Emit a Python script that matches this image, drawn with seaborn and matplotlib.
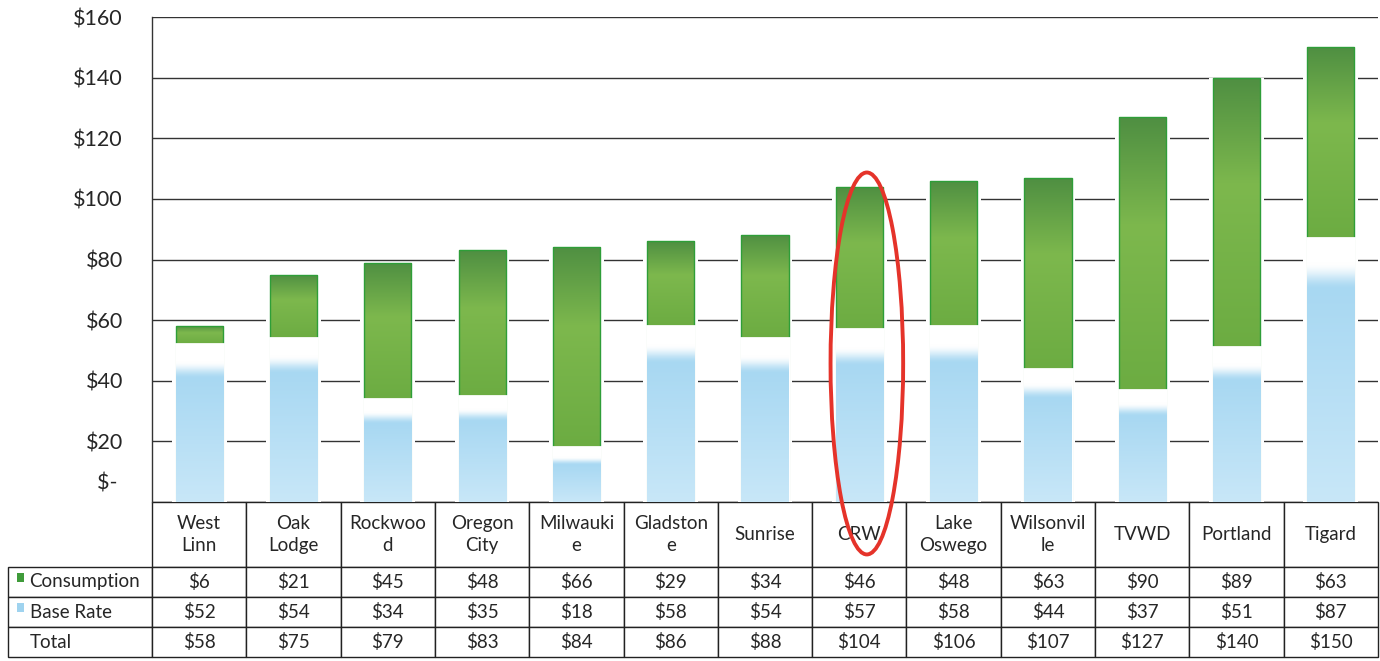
import matplotlib
matplotlib.use('Agg')
import matplotlib.pyplot as plt
from matplotlib.patches import Ellipse, Rectangle
from matplotlib.transforms import ScaledTranslation
import numpy as np
import seaborn as sns

## water bill comparison: base rate + consumption per provider, with data table below

categories = ['West Linn', 'Oak Lodge', 'Rockwood', 'Oregon City', 'Milwaukie', 'Gladstone',
              'Sunrise', 'CRW', 'Lake Oswego', 'Wilsonville', 'TVWD', 'Portland', 'Tigard']
col_labels = ['West\nLinn', 'Oak\nLodge', 'Rockwoo\nd', 'Oregon\nCity', 'Milwauki\ne', 'Gladston\ne',
              'Sunrise', 'CRW', 'Lake\nOswego', 'Wilsonvil\nle', 'TVWD', 'Portland', 'Tigard']
consumption = [6, 21, 45, 48, 66, 29, 34, 46, 48, 63, 90, 89, 63]
base_rate = [52, 54, 34, 35, 18, 58, 54, 57, 58, 44, 37, 51, 87]
total = [58, 75, 79, 83, 84, 86, 88, 104, 106, 107, 127, 140, 150]
row_labels = ['Consumption', 'Base Rate', 'Total']
yticks = [0, 20, 40, 60, 80, 100, 120, 140, 160]
highlight = 'CRW'

sns.set_style('white')
plt.rcParams['font.family'] = ['Lato', 'DejaVu Sans']

W, H = 1380, 661
AX_W, AX_H = 1226, 485
fig = plt.figure(figsize=(W / 100, H / 100), dpi=100)
ax = fig.add_axes([152 / W, 1 - 502 / H, AX_W / W, AX_H / H])

# white halo so gridlines stop short of the bars
sns.barplot(x=categories, y=total, color='white', saturation=1, width=0.58,
            linewidth=0, ax=ax, zorder=2)
# green (consumption) bars: drawn full height, lower part hidden by base bars
sns.barplot(x=categories, y=total, color='#6fb043', saturation=1, width=0.5,
            edgecolor='#2e9e38', linewidth=1, ax=ax, zorder=4)
green_bars = list(ax.containers[-1])
sns.barplot(x=categories, y=base_rate, color='white', saturation=1, width=0.5,
            edgecolor='white', linewidth=2, ax=ax, zorder=5)
blue_bars = list(ax.containers[-1])


def hex2rgb(h):
    h = h.lstrip('#')
    return np.array([int(h[i:i + 2], 16) / 255 for i in (0, 2, 4)])


g_top, g_mid, g_bot = hex2rgb('#4f8f42'), hex2rgb('#7db84d'), hex2rgb('#6cac42')
b_full, b_bot, white = hex2rgb('#a8d8f2'), hex2rgb('#c8e7f8'), np.ones(3)

for patch, b, t in zip(green_bars, base_rate, total):
    f = np.linspace(0, 1, 200)[:, None]  # 0 = top
    img = np.where(f < 0.4, g_top + (g_mid - g_top) * (f / 0.4),
                   g_mid + (g_bot - g_mid) * ((f - 0.4) / 0.6))
    x0, w = patch.get_x(), patch.get_width()
    im = ax.imshow(img[:, None, :], extent=[x0, x0 + w, b, t], aspect='auto',
                   zorder=3.5, interpolation='bilinear')
    im.set_clip_path(patch)
    patch.set_facecolor('none')

for patch, b in zip(blue_bars, base_rate):
    ys = np.linspace(b, 0, 300)[:, None]
    top_white = b - 0.07 * b - 2
    full_blue = b - 0.16 * b - 3
    k = np.clip((top_white - ys) / (top_white - full_blue), 0, 1)
    k = k * k * (3 - 2 * k)
    lower = b_full + (b_bot - b_full) * np.clip((full_blue - ys) / max(full_blue, 1), 0, 1)
    img = white + (lower - white) * k
    x0, w = patch.get_x(), patch.get_width()
    im = ax.imshow(img[:, None, :], extent=[x0, x0 + w, 0, b], aspect='auto',
                   zorder=5.5, interpolation='bilinear')
    im.set_clip_path(patch)

ax.set_xlim(-0.5, len(categories) - 0.5)
ax.set_ylim(0, 160)
ax.set_yticks(yticks)
ax.set_yticklabels(['$- ' if v == 0 else f'${v}' for v in yticks], fontsize=15.5)
ax.tick_params(axis='y', length=0, pad=21)
ax.tick_params(axis='x', labelbottom=False, length=0)
# the zero label sits a little above the table, as in the original
zlab = ax.get_yticklabels()[0]
zlab.set_transform(zlab.get_transform() + ScaledTranslation(0, 0.2, fig.dpi_scale_trans))
ax.set_xlabel('')
ax.set_ylabel('')
ax.yaxis.grid(True, color='#333333', linewidth=1)
ax.set_axisbelow(True)
for s in ['top', 'right', 'bottom']:
    ax.spines[s].set_visible(False)
ax.spines['left'].set_color('#333333')
ax.spines['left'].set_linewidth(1)

# data table below the plot (bbox covers data cells; row labels hang off to the left)
cell_text = [[f'${v}' for v in consumption],
             [f'${v}' for v in base_rate],
             [f'${v}' for v in total]]
tbl = ax.table(cellText=cell_text, rowLabels=row_labels, colLabels=col_labels,
               cellLoc='center', rowLoc='left', bbox=[0, -155 / AX_H, 1, 155 / AX_H])
tbl.auto_set_font_size(False)
tbl.set_fontsize(13.5)
for (r, c), cell in tbl.get_celld().items():
    cell.set_edgecolor('#222222')
    cell.set_linewidth(1)
    cell.set_height((65 if r == 0 else 30) / AX_H)
    cell.set_width(144 / AX_W if c == -1 else 1 / len(categories))
    cell.get_text().set_linespacing(1.35)
    if c == -1:
        cell.PAD = 0.15

# legend keys in the row labels
fig.patches.append(Rectangle((17 / W, 1 - 582 / H), 7 / W, 9 / H, transform=fig.transFigure,
                             facecolor='#3f9b3a', edgecolor='none'))
fig.patches.append(Rectangle((17 / W, 1 - 612 / H), 7 / W, 9 / H, transform=fig.transFigure,
                             facecolor='#9fd3ef', edgecolor='none'))

# red ring around CRW
i = categories.index(highlight)
ax.add_patch(Ellipse((i + 0.08, 45.7), width=0.77, height=126, fill=False,
                     edgecolor='#e5332a', linewidth=2.8, zorder=10, clip_on=False))

fig.savefig('out.png', dpi=100)
